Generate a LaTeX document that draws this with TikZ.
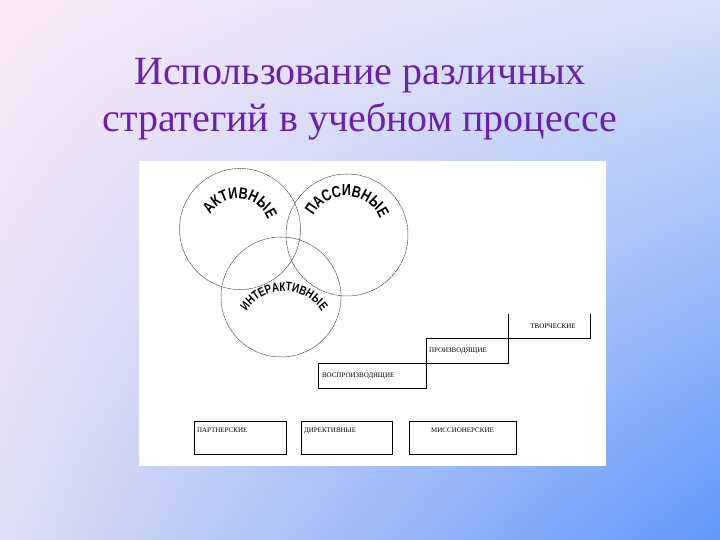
\documentclass[tikz,border=0pt]{standalone}
\usepackage{fontspec}
\setmainfont{Liberation Serif}
\newfontfamily\lnar[FakeStretch=0.78]{Liberation Sans}
\usetikzlibrary{decorations.text,shadings}
\definecolor{ttl}{HTML}{6A22A8}
\definecolor{bgul}{RGB}{250,232,248}
\definecolor{bgur}{RGB}{214,224,248}
\definecolor{bgll}{RGB}{222,222,244}
\definecolor{bglr}{RGB}{96,150,250}
\begin{document}
\begin{tikzpicture}[x=1pt,y=1pt,
  ring/.style={draw=black!75,dashed,dash pattern=on 2pt off 0.6pt,line width=0.5pt},
  tbox/.style={draw=black,line width=0.6pt,inner sep=0pt,font=\fontsize{7}{8}\selectfont},
  curv/.style={decorate,decoration={text along path,text align=center,raise=0pt}}]
\useasboundingbox (0,0) rectangle (720,540);
\shade[upper left=bgul,upper right=bgur,lower left=bgll,lower right=bglr] (0,0) rectangle (720,540);
\node[text=ttl,font=\fontsize{40}{47}\selectfont,align=center] (title) at (360,441) {Использование различных\\стратегий в учебном процессе};
\node[fill=white,minimum width=467,minimum height=305,inner sep=0pt] (panel) at (372.5,226.5) {};
% circles
\node[ring,circle,minimum size=121,inner sep=0pt] (act) at (240,311) {};
\node[ring,circle,minimum size=122,inner sep=0pt] (pas) at (347,305) {};
\node[ring,circle,minimum size=120,inner sep=0pt] (int) at (281,243) {};
\path[curv,decoration={text={|\lnar\bfseries\fontsize{16}{17}\selectfont|АКТИВНЫЕ}}] ([shift={(175:32)}]238,309) arc (175:-5:32);
\path[curv,decoration={text={|\lnar\bfseries\fontsize{16}{17}\selectfont|ПАССИВНЫЕ}}] ([shift={(180:37)}]346,307) arc (180:-5:37);
\path[curv,decoration={text={|\lnar\bfseries\fontsize{12.5}{13}\selectfont|ИНТЕРАКТИВНЫЕ}}] ([shift={(160:45)}]284,204) arc (160:20:45);
% steps
\node[tbox,minimum width=108,minimum height=25,text width=100,align=left] (vos) at (372,164.5) {ВОСПРОИЗВОДЯЩИЕ};
\node[tbox,minimum width=82,minimum height=25,text width=76,align=left] (pro) at (467,189.5) {ПРОИЗВОДЯЩИЕ};
\node[inner sep=0pt,minimum width=82,minimum height=24,font=\fontsize{7}{8}\selectfont] (tvo) at (549,214) {\hspace{8pt}ТВОРЧЕСКИЕ};
\draw[line width=0.6pt] (tvo.north west) -- (tvo.south west) -- (tvo.south east) -- (tvo.north east);
% bottom boxes
\node[tbox,minimum width=92,minimum height=33,text width=86,align=left,text depth=14pt] (par) at (240,102.5) {ПАРТНЕРСКИЕ};
\node[tbox,minimum width=91,minimum height=33,text width=85,align=left,text depth=14pt] (dir) at (346.5,102.5) {ДИРЕКТИВНЫЕ};
\node[tbox,minimum width=107,minimum height=33,text width=100,align=center,text depth=14pt] (mis) at (462.5,102.5) {МИССИОНЕРСКИЕ};
\end{tikzpicture}
\end{document}
